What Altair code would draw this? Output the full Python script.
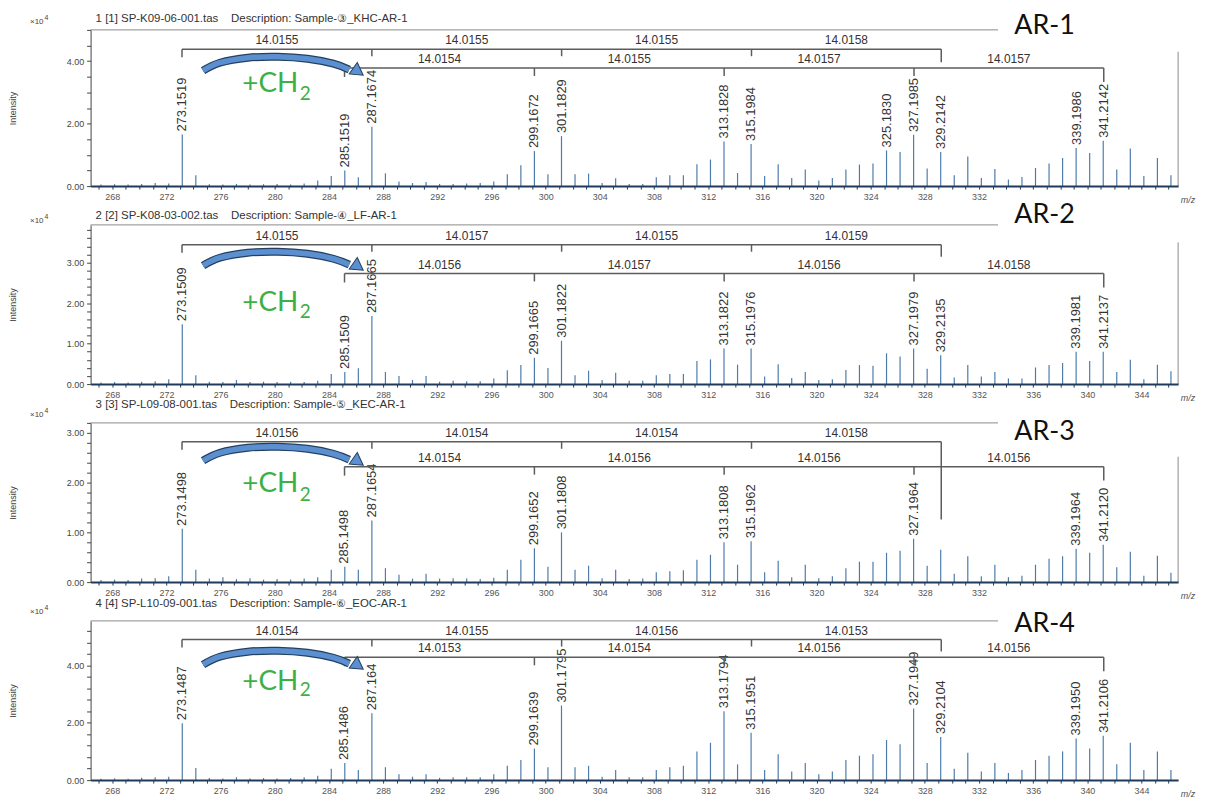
import altair as alt
import pandas as pd

# ---------------- data ----------------
MZ = list(range(267, 347))

INT_AR1 = [0.05, 0.06, 0.05, 0.07, 0.10, 0.08, 1.65, 0.35, 0.06, 0.05,
           0.07, 0.05, 0.06, 0.07, 0.05, 0.08, 0.18, 0.32, 0.50, 0.28,
           1.90, 0.41, 0.15, 0.10, 0.13, 0.07, 0.07, 0.08, 0.10, 0.15,
           0.38, 0.67, 1.12, 0.38, 1.60, 0.38, 0.40, 0.10, 0.25, 0.07,
           0.07, 0.28, 0.35, 0.35, 0.70, 0.85, 1.43, 0.42, 1.35, 0.32,
           0.70, 0.26, 0.53, 0.18, 0.26, 0.53, 0.69, 0.72, 1.14, 1.09,
           1.64, 0.56, 1.09, 0.35, 0.95, 0.26, 0.55, 0.21, 0.29, 0.58,
           0.72, 0.90, 1.22, 1.06, 1.45, 0.53, 1.20, 0.32, 0.90, 0.35]
INT_AR2 = [0.04, 0.05, 0.04, 0.06, 0.07, 0.12, 1.48, 0.22, 0.06, 0.05,
           0.10, 0.05, 0.06, 0.05, 0.06, 0.05, 0.08, 0.25, 0.30, 0.39,
           1.68, 0.30, 0.20, 0.10, 0.20, 0.06, 0.08, 0.07, 0.07, 0.14,
           0.34, 0.47, 0.65, 0.40, 1.07, 0.22, 0.33, 0.10, 0.28, 0.08,
           0.08, 0.22, 0.25, 0.25, 0.57, 0.61, 0.88, 0.48, 0.88, 0.19,
           0.49, 0.15, 0.30, 0.10, 0.12, 0.35, 0.47, 0.45, 0.76, 0.68,
           0.88, 0.38, 0.71, 0.16, 0.47, 0.19, 0.30, 0.14, 0.14, 0.41,
           0.47, 0.52, 0.80, 0.57, 0.80, 0.30, 0.60, 0.12, 0.48, 0.32]
INT_AR3 = [0.04, 0.05, 0.04, 0.07, 0.08, 0.12, 1.07, 0.25, 0.07, 0.10,
           0.06, 0.08, 0.05, 0.06, 0.05, 0.07, 0.10, 0.25, 0.31, 0.25,
           1.24, 0.28, 0.15, 0.07, 0.17, 0.07, 0.08, 0.07, 0.06, 0.09,
           0.25, 0.45, 0.68, 0.31, 1.00, 0.25, 0.33, 0.08, 0.25, 0.06,
           0.07, 0.20, 0.22, 0.24, 0.45, 0.55, 0.80, 0.35, 0.82, 0.20,
           0.43, 0.10, 0.35, 0.08, 0.12, 0.28, 0.41, 0.41, 0.59, 0.63,
           0.87, 0.33, 0.65, 0.17, 0.52, 0.12, 0.35, 0.10, 0.13, 0.35,
           0.47, 0.52, 0.67, 0.59, 0.75, 0.30, 0.61, 0.13, 0.53, 0.19]
INT_AR4 = [0.05, 0.06, 0.05, 0.08, 0.10, 0.12, 1.98, 0.42, 0.07, 0.06,
           0.10, 0.06, 0.07, 0.06, 0.07, 0.10, 0.15, 0.40, 0.60, 0.35,
           2.33, 0.45, 0.20, 0.12, 0.20, 0.08, 0.10, 0.10, 0.10, 0.20,
           0.50, 0.70, 1.10, 0.45, 2.60, 0.45, 0.50, 0.12, 0.35, 0.10,
           0.10, 0.35, 0.45, 0.50, 1.00, 1.30, 2.40, 0.55, 1.65, 0.35,
           0.90, 0.30, 0.60, 0.20, 0.30, 0.70, 0.85, 0.90, 1.40, 1.25,
           2.50, 0.60, 1.50, 0.40, 0.95, 0.30, 0.60, 0.25, 0.35, 0.70,
           0.85, 1.00, 1.45, 1.10, 1.55, 0.55, 1.30, 0.35, 1.00, 0.35]

LABELS_AR1 = ["273.1519", "285.1519", "287.1674", "299.1672", "301.1829", "313.1828",
              "315.1984", "325.1830", "327.1985", "329.2142", "339.1986", "341.2142"]
LABELS_AR2 = ["273.1509", "285.1509", "287.1665", "299.1665", "301.1822", "313.1822",
              "315.1976", "327.1979", "329.2135", "339.1981", "341.2137"]
LABELS_AR3 = ["273.1498", "285.1498", "287.1654", "299.1652", "301.1808", "313.1808",
              "315.1962", "327.1964", "339.1964", "341.2120"]
LABELS_AR4 = ["273.1487", "285.1486", "287.164", "299.1639", "301.1795", "313.1794",
              "315.1951", "327.1949", "329.2104", "339.1950", "341.2106"]

NODES_A = [273.15, 287.17, 301.18, 315.20, 329.21]
NODES_B = [285.15, 299.17, 313.18, 327.20, 341.21]
DIFF_A = [["14.0155", "14.0155", "14.0155", "14.0158"],
          ["14.0155", "14.0157", "14.0155", "14.0159"],
          ["14.0156", "14.0154", "14.0154", "14.0158"],
          ["14.0154", "14.0155", "14.0156", "14.0153"]]
DIFF_B = [["14.0154", "14.0155", "14.0157", "14.0157"],
          ["14.0156", "14.0157", "14.0156", "14.0158"],
          ["14.0154", "14.0156", "14.0156", "14.0156"],
          ["14.0153", "14.0154", "14.0156", "14.0156"]]

HEADERS = ["1 [1] SP-K09-06-001.tas\u00a0\u00a0\u00a0\u00a0Description: Sample-\u2462_KHC-AR-1",
           "2 [2] SP-K08-03-002.tas\u00a0\u00a0\u00a0\u00a0Description: Sample-\u2463_LF-AR-1",
           "3 [3] SP-L09-08-001.tas\u00a0\u00a0\u00a0\u00a0Description: Sample-\u2464_KEC-AR-1",
           "4 [4] SP-L10-09-001.tas\u00a0\u00a0\u00a0\u00a0Description: Sample-\u2465_EOC-AR-1"]
NAMES = ["AR-1", "AR-2", "AR-3", "AR-4"]

Y_MAX = [5.0, 3.93, 3.2, 5.55]
Y_TICKS = [[0, 0.5, 1.0, 1.5, 2.0, 2.5, 3.0, 3.5, 4.0, 4.5, 5.0],
           [0, 0.2, 0.4, 0.6, 0.8, 1.0, 1.2, 1.4, 1.6, 1.8, 2.0, 2.2, 2.4, 2.6, 2.8, 3.0, 3.2, 3.4, 3.6, 3.8],
           [0, 0.2, 0.4, 0.6, 0.8, 1.0, 1.2, 1.4, 1.6, 1.8, 2.0, 2.2, 2.4, 2.6, 2.8, 3.0, 3.2],
           [0, 0.4, 0.8, 1.2, 1.6, 2.0, 2.4, 2.8, 3.2, 3.6, 4.0, 4.4, 4.8, 5.2]]
Y_LABEL_STEP = [2, 1, 1, 2]
X_TICKS = list(range(267, 347))
X_LABEL_MAX = [332, 344, 332, 344]

# ---------------- layout / style ----------------
X_DOMAIN = [266.4, 346.7]
W = 1093
HEIGHTS = [157, 160, 160, 160]
BR_A_Y = [4.38, 3.44, 2.82, 4.90]
BR_B_Y = [3.78, 2.73, 2.32, 4.28]
END_A_DROP = [13, 12, 78, 12]
RIGHT_BORDER_TOP = [4.3, 3.5, 2.52, None]
# arrow outline: (x pixel, pixel offset relative to the apex line)
ARROW_PX = [(205, 12), (222, 4), (250, -1), (280, -2), (310, 0), (336, 5), (352, 11)]
ARROW_APEX = [27, 27, 24, 30]   # px below plot top
TIP_PX = (361, 13)
CH_Y = [3.27, 2.01, 1.98, 3.41]
SUB_Y = [2.95, 1.77, 1.76, 3.13]
AR_OFF = [4, 10, -9, -3]
HEAD_OFF = [11, 9, 18, 17]
X10_OFF = [8, 4, 8, 9]

INTS = [INT_AR1, INT_AR2, INT_AR3, INT_AR4]
LABS = [LABELS_AR1, LABELS_AR2, LABELS_AR3, LABELS_AR4]

PEAK_C = "#4d7cab"
NAVY = "#1f3a5a"
LINE_C = "#5c5c5c"
GREEN = "#3cb043"
BLUE = "#5b8fd0"
FONT = "Liberation Sans"
PX_PER_MZ = W / (X_DOMAIN[1] - X_DOMAIN[0])
PLOT_LEFT = 92


def build(i):
    h = HEIGHTS[i]
    top = Y_MAX[i]
    ppu = h / top

    def px(p):
        return p / ppu

    def mzx(xpix):
        return X_DOMAIN[0] + (xpix - PLOT_LEFT) / PX_PER_MZ

    xs = alt.Scale(domain=X_DOMAIN, nice=False, zero=False)
    ys = alt.Scale(domain=[0, top], nice=False, zero=True)

    step = Y_LABEL_STEP[i]
    xaxis = alt.Axis(values=X_TICKS, title=None, grid=False, zindex=1,
                     labelExpr=f"datum.value % 4 == 0 && datum.value <= {X_LABEL_MAX[i]} ? datum.value : ''",
                     domainColor=NAVY, domainWidth=2, tickColor=NAVY, tickSize=3, tickWidth=1,
                     labelFont=FONT, labelFontSize=9, labelColor="#555", labelPadding=3,
                     labelFlush=False, labelOverlap=False)
    yaxis = alt.Axis(values=Y_TICKS[i], title="Intensity", grid=False,
                     labelExpr=f"abs(datum.value/{step} - round(datum.value/{step})) < 0.001 ? format(datum.value, '.2f') : ''",
                     domainColor="#444", tickColor="#444", tickSize=4,
                     labelFont=FONT, labelFontSize=9, labelColor="#444", labelPadding=3,
                     labelOverlap=False,
                     titleFont=FONT, titleFontSize=9, titleFontWeight="normal", titleColor="#444",
                     titleAngle=270, titleX=-78, titleY=h / 2, titleAlign="center", titleBaseline="middle")

    # every layer carries the same axis definition so the merged axes stay visible
    def X(f):
        return alt.X(f, type="quantitative", scale=xs, axis=xaxis)

    def Y(f):
        return alt.Y(f, type="quantitative", scale=ys, axis=yaxis)

    layers = []

    peaks = pd.DataFrame({"mz": [m + 0.17 for m in MZ], "inten": INTS[i], "base": [0.0] * len(MZ)})
    layers.append(alt.Chart(peaks).mark_rule(color=PEAK_C, strokeWidth=1.2).encode(
        x=X("mz"), y=Y("inten"), y2="base:Q"))

    ft = pd.DataFrame({"x": [X_DOMAIN[0]], "x2": [333.4], "y": [top]})
    layers.append(alt.Chart(ft).mark_rule(color="#8a8a8a", strokeWidth=1).encode(
        x=X("x"), x2="x2:Q", y=Y("y")))
    if RIGHT_BORDER_TOP[i] is not None:
        rb = pd.DataFrame({"x": [X_DOMAIN[1]], "y": [RIGHT_BORDER_TOP[i]], "y2": [0.0]})
        layers.append(alt.Chart(rb).mark_rule(color="#8a8a8a", strokeWidth=1).encode(
            x=X("x"), y=Y("y"), y2="y2:Q"))

    labs = LABS[i]
    lab_df = pd.DataFrame({"mz": [float(s) for s in labs],
                           "inten": [INTS[i][MZ.index(int(float(s)))] for s in labs],
                           "txt": labs})
    layers.append(alt.Chart(lab_df).mark_text(angle=270, align="left", baseline="middle", dx=3,
                                              font=FONT, fontSize=13, color="#333").encode(
        x=X("mz"), y=Y("inten"), text="txt:N"))

    yA, yB = BR_A_Y[i], BR_B_Y[i]
    hl = pd.DataFrame({"x": [NODES_A[0], NODES_B[0]], "x2": [NODES_A[-1], NODES_B[-1]], "y": [yA, yB]})
    layers.append(alt.Chart(hl).mark_rule(color=LINE_C, strokeWidth=1.5).encode(
        x=X("x"), x2="x2:Q", y=Y("y")))
    drops_a = [8, 7, 7, 7, END_A_DROP[i]]
    drops_b = [9, 8, 8, 8, 14]
    vt = pd.DataFrame({"x": NODES_A + NODES_B,
                       "y": [yA] * 5 + [yB] * 5,
                       "y2": [yA - px(d) for d in drops_a] + [yB - px(d) for d in drops_b]})
    layers.append(alt.Chart(vt).mark_rule(color=LINE_C, strokeWidth=1.5).encode(
        x=X("x"), y=Y("y"), y2="y2:Q"))
    mids_a = [(NODES_A[k] + NODES_A[k + 1]) / 2 for k in range(4)]
    mids_b = [(NODES_B[k] + NODES_B[k + 1]) / 2 for k in range(4)]
    bl = pd.DataFrame({"x": mids_a + mids_b, "y": [yA] * 4 + [yB] * 4, "txt": DIFF_A[i] + DIFF_B[i]})
    layers.append(alt.Chart(bl).mark_text(align="center", baseline="bottom", dy=-2,
                                          font=FONT, fontSize=12, color="#333").encode(
        x=X("x"), y=Y("y"), text="txt:N"))

    apex = ARROW_APEX[i] + 2
    arr = pd.DataFrame({"x": [mzx(p[0]) for p in ARROW_PX],
                        "y": [top - px(apex + p[1]) for p in ARROW_PX],
                        "o": list(range(len(ARROW_PX)))})
    layers.append(alt.Chart(arr).mark_line(interpolate="cardinal", strokeWidth=8, color="#23405f",
                                           strokeCap="butt").encode(x=X("x"), y=Y("y"), order="o:Q"))
    layers.append(alt.Chart(arr).mark_line(interpolate="cardinal", strokeWidth=5.5, color=BLUE,
                                           strokeCap="butt").encode(x=X("x"), y=Y("y"), order="o:Q"))
    tip = pd.DataFrame({"x": [mzx(TIP_PX[0])], "y": [top - px(apex + TIP_PX[1])]})
    layers.append(alt.Chart(tip).mark_point(shape="triangle-right", filled=True, size=200, angle=35,
                                            fill=BLUE, stroke="#23405f", strokeWidth=1, opacity=1).encode(
        x=X("x"), y=Y("y")))

    ch = pd.DataFrame({"x": [277.6], "y": [CH_Y[i]], "t": ["+CH"]})
    layers.append(alt.Chart(ch).mark_text(align="left", baseline="middle", font="Lato", fontSize=28,
                                          color=GREEN).encode(x=X("x"), y=Y("y"), text="t:N"))
    sub = pd.DataFrame({"x": [281.85], "y": [SUB_Y[i]], "t": ["2"]})
    layers.append(alt.Chart(sub).mark_text(align="left", baseline="middle", font="Lato", fontSize=19,
                                           color=GREEN).encode(x=X("x"), y=Y("y"), text="t:N"))

    nm = pd.DataFrame({"x": [334.6], "y": [top + px(AR_OFF[i])], "t": [NAMES[i]]})
    layers.append(alt.Chart(nm).mark_text(align="left", baseline="middle", font="Lato", fontSize=27,
                                          color="#111").encode(x=X("x"), y=Y("y"), text="t:N"))

    hd = pd.DataFrame({"x": [266.77], "y": [top + px(HEAD_OFF[i])], "t": [HEADERS[i]]})
    layers.append(alt.Chart(hd).mark_text(align="left", baseline="middle", font=FONT, fontSize=11.5,
                                          color="#333").encode(x=X("x"), y=Y("y"), text="t:N"))
    xt = pd.DataFrame({"x": [261.93], "y": [top + px(X10_OFF[i])], "t": ["\u00d710"]})
    layers.append(alt.Chart(xt).mark_text(align="left", baseline="middle", font=FONT, fontSize=8,
                                          color="#444").encode(x=X("x"), y=Y("y"), text="t:N"))
    xe = pd.DataFrame({"x": [263.0], "y": [top + px(X10_OFF[i] + 4)], "t": ["4"]})
    layers.append(alt.Chart(xe).mark_text(align="left", baseline="middle", font=FONT, fontSize=7,
                                          color="#444").encode(x=X("x"), y=Y("y"), text="t:N"))
    mzl = pd.DataFrame({"x": [346.9], "y": [-px(14)], "t": ["m/z"]})
    layers.append(alt.Chart(mzl).mark_text(align="left", baseline="middle", font=FONT, fontSize=9,
                                           fontStyle="italic", color="#555").encode(x=X("x"), y=Y("y"), text="t:N"))

    return alt.layer(*layers).properties(width=W, height=h)


chart = alt.vconcat(*[build(i) for i in range(4)], spacing=39, bounds="flush").configure_view(
    stroke=None).properties(padding={"left": 1, "top": 2, "right": 5, "bottom": 0})

chart.save("out.html", embed_options={"renderer": "svg", "actions": False})
